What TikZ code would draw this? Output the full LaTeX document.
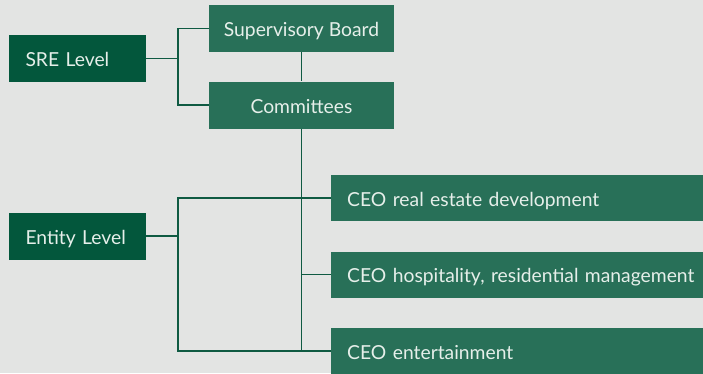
\documentclass[tikz,border=0pt]{standalone}
\usepackage{fontspec}
\setmainfont{Lato}

\definecolor{levelgreen}{HTML}{03573C}
\definecolor{boxgreen}{HTML}{287058}
\definecolor{linegreen}{HTML}{0F5A42}
\definecolor{pagegrey}{HTML}{E3E4E3}
\definecolor{boxtext}{HTML}{E6EFEA}

\begin{document}
\begin{tikzpicture}[x=1pt, y=-1pt,
    boxfont/.style={font=\fontsize{19.3}{22}\selectfont, text height=16pt, text depth=0pt},
    level/.style={boxfont, fill=levelgreen, text=boxtext, text width=104pt, inner xsep=16.5pt, minimum height=47pt, align=left},
    unit/.style={boxfont, fill=boxgreen, text=boxtext, minimum width=185pt, minimum height=47pt},
    ceo/.style={boxfont, fill=boxgreen, text=boxtext, anchor=west, text width=360pt, inner xsep=16pt, minimum height=46pt, align=left},
    link/.style={draw=linegreen, line width=1.3pt}]

    % 1. Page
    \fill[pagegrey] (0,0) rectangle (703,373);
    \useasboundingbox (0,0) rectangle (703,373);

    % 2. Level boxes on the left
    \node[level] (sre) at (77.5,58.5) {SRE Level};
    \node[level] (entity) at (77.5,236) {Entity Level};

    % 3. Board and committees
    \node[unit] (board) at (301.5,28.5) {Supervisory Board};
    \node[unit] (comm) at (301.5,105) {Committees};

    % 4. CEO boxes (they run off the right edge)
    \node[ceo] (ceoRE) at (331,198) {CEO real estate development};
    \node[ceo] (ceoHR) at (331,274.5) {CEO hospitality, residential management};
    \node[ceo] (ceoEN) at (331,351) {CEO entertainment};

    % 5. Brackets
    \coordinate (sreBr) at (178,58.5);
    \coordinate (entBr) at (178,236);
    \draw[link] (board.west) -| (sreBr) |- (comm.west);
    \draw[link] (sre.east) -- (sreBr);
    \draw[link] (ceoRE.west) -| (entBr) |- (ceoEN.west);
    \draw[link] (entity.east) -- (entBr);

    % 6. Trunk down to the CEOs
    \draw[link] (board.south) -- (comm.north);
    \draw[link] (comm.south) -- (comm.south |- ceoEN.west);
    \draw[link] (comm.south |- ceoHR.west) -- (ceoHR.west);

\end{tikzpicture}
\end{document}
